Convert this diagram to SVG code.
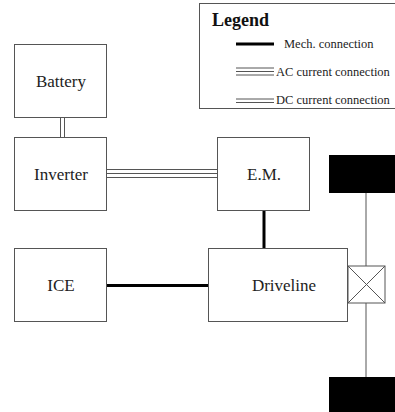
<svg xmlns="http://www.w3.org/2000/svg" width="395" height="412" viewBox="0 0 395 412">
<style>
.box{fill:#fff;stroke:#555;stroke-width:1}
.lbl{font-size:17px;fill:#222;text-anchor:middle}
.leg{font-size:12.5px;fill:#222}
.mech{stroke:#000;stroke-width:3;fill:none}
.el{stroke:#555;stroke-width:1;fill:none}
.wheel{fill:#000;stroke:none}
</style>
<rect width="395" height="412" fill="#fff"/>
<g font-family="'Liberation Serif', 'Times New Roman', serif">
<g id="legend">
<rect class="box" x="199.5" y="3.5" width="210" height="105"/>
<text x="212" y="26" font-size="18" font-weight="bold" fill="#111">Legend</text>
<line class="mech" x1="236" y1="44" x2="274" y2="44"/>
<text class="leg" x="284" y="48">Mech. connection</text>
<line class="el" x1="236" y1="68" x2="274" y2="68"/>
<line class="el" x1="236" y1="71.5" x2="274" y2="71.5"/>
<line class="el" x1="236" y1="75" x2="274" y2="75"/>
<text class="leg" x="276" y="76">AC current connection</text>
<line class="el" x1="236" y1="99" x2="274" y2="99"/>
<line class="el" x1="236" y1="102.5" x2="274" y2="102.5"/>
<text class="leg" x="276" y="104">DC current connection</text>
</g>
<g id="connectors">
<line class="el" x1="60.5" y1="118" x2="60.5" y2="137"/>
<line class="el" x1="64.5" y1="118" x2="64.5" y2="137"/>
<line class="el" x1="107" y1="169.5" x2="217" y2="169.5"/>
<line class="el" x1="107" y1="173.5" x2="217" y2="173.5"/>
<line class="el" x1="107" y1="177.5" x2="217" y2="177.5"/>
<line class="mech" x1="264" y1="211" x2="264" y2="248"/>
<line class="mech" x1="107" y1="285.5" x2="208" y2="285.5"/>
<line class="el" x1="366" y1="193" x2="366" y2="266"/>
<line class="el" x1="366" y1="303" x2="366" y2="377"/>
</g>
<g id="battery"><rect class="box" x="14.5" y="44.5" width="92" height="73"/><text class="lbl" x="61" y="87">Battery</text></g>
<g id="inverter"><rect class="box" x="14.5" y="137.5" width="92" height="73"/><text class="lbl" x="61" y="180">Inverter</text></g>
<g id="em"><rect class="box" x="217.5" y="137.5" width="92" height="73"/><text class="lbl" x="264" y="180">E.M.</text></g>
<g id="ice"><rect class="box" x="14.5" y="248.5" width="92" height="73"/><text class="lbl" x="61" y="291">ICE</text></g>
<g id="driveline"><rect class="box" x="208.5" y="248.5" width="139" height="73"/><text class="lbl" x="284" y="291">Driveline</text></g>
<g id="differential">
<rect class="box" x="348" y="266" width="37" height="37"/>
<line class="el" x1="348" y1="266" x2="385" y2="303"/>
<line class="el" x1="385" y1="266" x2="348" y2="303"/>
</g>
<g id="wheel-top"><rect class="wheel" x="329" y="155" width="70" height="38"/></g>
<g id="wheel-bottom"><rect class="wheel" x="329" y="377" width="70" height="40"/></g>
</g>
</svg>
